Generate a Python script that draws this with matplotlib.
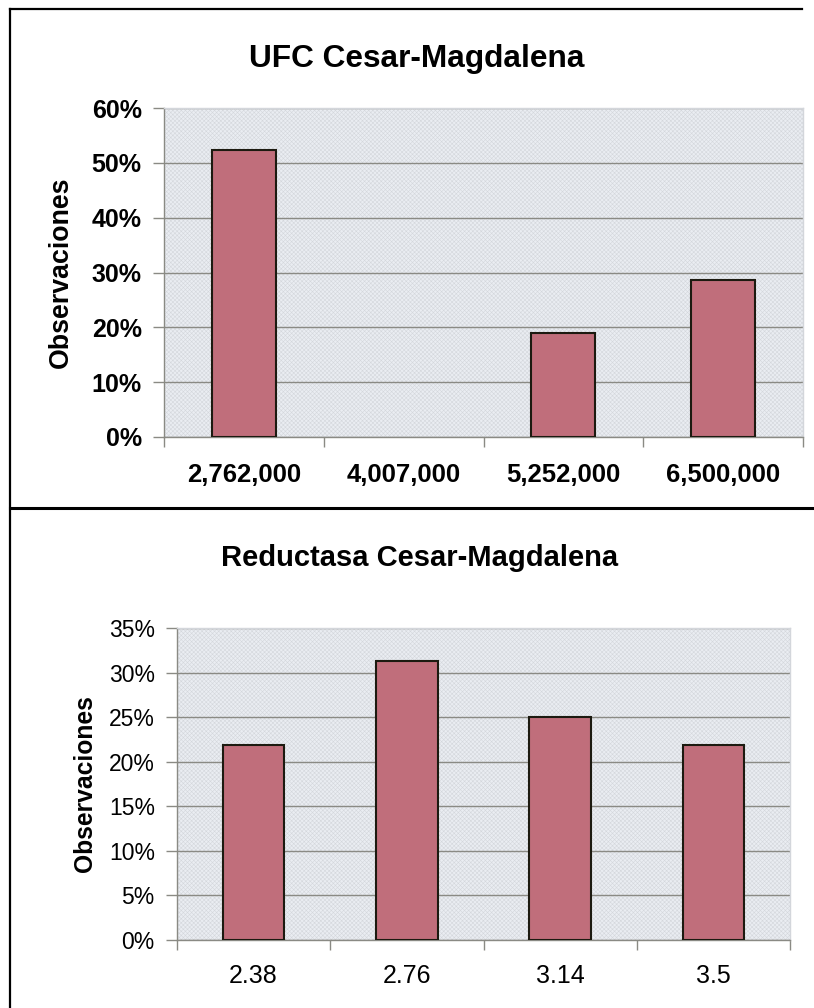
import numpy as np
import matplotlib
matplotlib.use('Agg')
import matplotlib.pyplot as plt
from matplotlib.lines import Line2D
from matplotlib.patches import Rectangle

# Data
ufc_labels = ['2,762,000', '4,007,000', '5,252,000', '6,500,000']
ufc_values = [0.524, 0.0, 0.190, 0.286]

red_labels = ['2.38', '2.76', '3.14', '3.5']
red_values = [0.219, 0.3125, 0.25, 0.219]

plt.rcParams['font.family'] = ['Liberation Sans', 'DejaVu Sans']
plt.rcParams['hatch.linewidth'] = 0.4

W, H = 814, 1008
fig = plt.figure(figsize=(W / 100, H / 100), dpi=100)

bar_color = '#C06E7B'
bg_color = '#EAEDF2'
grid_color = '#8a8a84'


def px_rect(left, top, right, bottom):
    return [left / W, 1 - bottom / H, (right - left) / W, (bottom - top) / H]


def draw_panel(ax, labels, values, ymax, ystep, bold_ticks, ytick_size, xtick_size, xpad, ylab_size):
    n = len(labels)
    x = np.arange(n)
    ax.set_facecolor(bg_color)
    ax.add_patch(Rectangle((0, 0), 1, 1, transform=ax.transAxes, facecolor='none',
                           edgecolor='#d4d7dc', hatch='xxxxxxxx', lw=0, zorder=0))
    lws = [1.5 if v > 0 else 0 for v in values]
    ax.bar(x, values, width=0.4, color=bar_color, edgecolor='#1c1a10', linewidth=lws, zorder=3)
    ax.set_xlim(-0.5, n - 0.5)
    ax.set_ylim(0, ymax)
    yt = np.arange(0, ymax + 1e-9, ystep)
    ax.set_yticks(yt)
    ax.set_yticklabels(['%d%%' % round(v * 100) for v in yt],
                       fontsize=ytick_size, fontweight='bold' if bold_ticks else 'normal')
    ax.yaxis.grid(True, color=grid_color, linewidth=1.0, zorder=1)
    ax.set_axisbelow(True)
    # ticks at category edges, labels at centres
    ax.set_xticks(np.arange(-0.5, n, 1.0))
    ax.set_xticklabels([])
    ax.set_xticks(x, minor=True)
    ax.set_xticklabels(labels, minor=True, fontsize=xtick_size,
                       fontweight='bold' if bold_ticks else 'normal')
    ax.tick_params(axis='x', which='major', length=7, color=grid_color, width=1)
    ax.tick_params(axis='x', which='minor', length=0, pad=xpad)
    ax.tick_params(axis='y', length=8, color=grid_color, width=1, pad=8)
    for s in ['left', 'bottom']:
        ax.spines[s].set_color(grid_color)
        ax.spines[s].set_linewidth(1.0)
    for s in ['top', 'right']:
        ax.spines[s].set_color('#d3d6db')
        ax.spines[s].set_linewidth(1.0)
    ax.set_ylabel('Observaciones', fontsize=ylab_size, fontweight='bold', va='center')


ax1 = fig.add_axes(px_rect(164, 108, 803, 437))
draw_panel(ax1, ufc_labels, ufc_values, 0.6, 0.1, True, 18, 18.5, 19, 19.3)
ax1.yaxis.set_label_coords((61 - 164) / 639, 0.5)

ax2 = fig.add_axes(px_rect(177, 628, 790, 940))
draw_panel(ax2, red_labels, red_values, 0.35, 0.05, False, 16.5, 18, 17, 17.7)
ax2.yaxis.set_label_coords((85 - 177) / 613, 0.5)

fig.text(417 / W, 1 - 67 / H, 'UFC Cesar-Magdalena', ha='center', va='baseline',
         fontsize=22.8, fontweight='bold')
fig.text(420 / W, 1 - 566 / H, 'Reductasa Cesar-Magdalena', ha='center', va='baseline',
         fontsize=21, fontweight='bold')

# frame lines of the scanned page
fig.add_artist(Line2D([10 / W, 802 / W], [1 - 9 / H, 1 - 9 / H], color='black', lw=1.6))
fig.add_artist(Line2D([10 / W, 10 / W], [1 - 9 / H, 0], color='black', lw=1.6))
fig.add_artist(Line2D([10 / W, 1], [1 - 508 / H, 1 - 508 / H], color='black', lw=2.2))

fig.savefig('out.png', dpi=100)
